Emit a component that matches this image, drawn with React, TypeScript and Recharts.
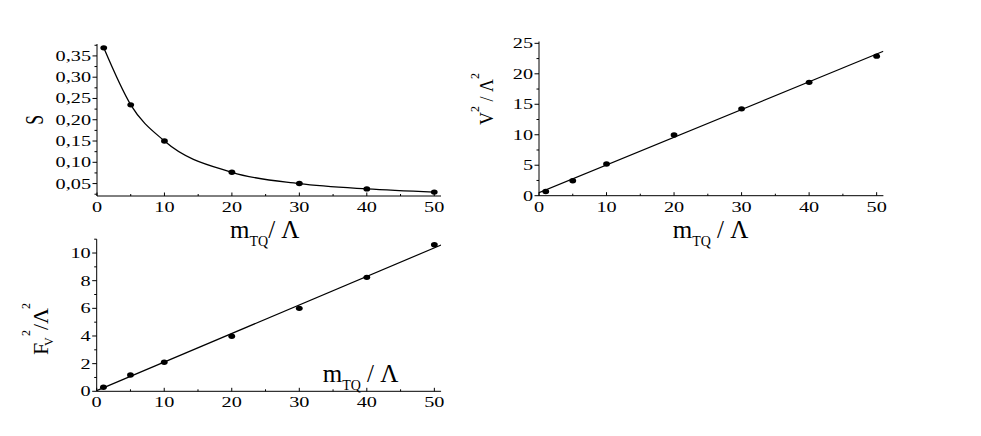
import React from "react"
import { ComposedChart, Line, Scatter, XAxis, YAxis } from "recharts"

const W = 981
const H = 436
const FONT = "'Liberation Serif', 'Times New Roman', serif"

// m_TQ / Lambda values where points were computed
const mValues = [1, 5, 10, 20, 30, 40, 50]
const sValues = [0.369, 0.235, 0.15, 0.0765, 0.05, 0.0375, 0.03]
const v2Values = [0.7, 2.45, 5.2, 9.95, 14.25, 18.6, 22.9]
const f2Values = [0.29, 1.18, 2.1, 3.98, 6.0, 8.24, 10.6]

// linear fits (end points)
const fitM = [0, 51]
const v2Fit = [0.5, 23.7]
const f2Fit = [0.05, 10.58]

const xMajor = [0, 10, 20, 30, 40, 50]
const xMinor = [5, 15, 25, 35, 45]
const sMajor = [0.05, 0.1, 0.15, 0.2, 0.25, 0.3, 0.35]
const sMinor = [0.025, 0.075, 0.125, 0.175, 0.225, 0.275, 0.325, 0.375]
const v2Major = [0, 5, 10, 15, 20, 25]
const v2Minor = [2.5, 7.5, 12.5, 17.5, 22.5]
const f2Major = [0, 2, 4, 6, 8, 10]
const f2Minor = [1, 3, 5, 7, 9, 11]

const sData = mValues.map((m, i) => ({ m, y: sValues[i] }))
const v2Data = mValues.map((m, i) => ({ m, y: v2Values[i] }))
const f2Data = mValues.map((m, i) => ({ m, y: f2Values[i] }))
const v2Line = fitM.map((m, i) => ({ m, y: v2Fit[i] }))
const f2Line = fitM.map((m, i) => ({ m, y: f2Fit[i] }))

const STRETCH = 1.35
const TICK_FONT = 15

function labelWidth(t: string) {
  let w = 0
  for (const c of t) w += c === "," ? 0.25 : 0.5
  return w * TICK_FONT * STRETCH
}

const isIn = (arr: number[], v: number) => arr.some((a) => Math.abs(a - v) < 1e-6)
const sorted = (a: number[], b: number[]) => [...a, ...b].sort((p, q) => p - q)

function makeYTick(majors: number[], fmt: (v: number) => string) {
  return (props: any) => {
    const { x, y, payload } = props
    const v = payload.value
    if (!isIn(majors, v)) {
      return <line x1={x} x2={x - 2.5} y1={y} y2={y} stroke="#000" />
    }
    const t = fmt(v)
    return (
      <g>
        <line x1={x} x2={x - 4.5} y1={y} y2={y} stroke="#000" />
        <text x={x - 6} y={y + 5} textAnchor="end" fontSize={TICK_FONT} fontFamily={FONT}
          textLength={labelWidth(t)} lengthAdjust="spacingAndGlyphs" fill="#000">{t}</text>
      </g>
    )
  }
}

function XTick(props: any) {
  const { x, y, payload } = props
  const v = payload.value
  const major = isIn(xMajor, v)
  const t = String(v)
  return (
    <g>
      <line x1={x} x2={x} y1={y} y2={y - (major ? 3.5 : 2)} stroke="#000" />
      {major && (
        <text x={x} y={y + 16} textAnchor="middle" fontSize={TICK_FONT} fontFamily={FONT}
          textLength={labelWidth(t)} lengthAdjust="spacingAndGlyphs" fill="#000">{t}</text>
      )}
    </g>
  )
}

const Dot = (p: any) => (
  <ellipse key={`d${p.index}-${p.cx}`} cx={p.cx} cy={p.cy} rx={3.4} ry={2.7} fill="#000" />
)
const NoShape = () => <g />

const sFmt = (v: number) => v.toFixed(2).replace(".", ",")
const intFmt = (v: number) => String(v)

// plot-area boxes: left, top, right, bottom (px)
function margins(l: number, t: number, r: number, b: number) {
  // axes get 1px of width/height, which recharts adds inside the margin
  return { left: l - 1, top: t, right: W - r, bottom: H - b - 1 }
}

export default function App() {
  return (
    <div style={{ position: "absolute", left: 0, top: 0, width: W, height: H, background: "#fff" }}>
      <div style={{ position: "absolute", left: 0, top: 0 }}>
        <ComposedChart width={W} height={H} data={sData} margin={margins(97, 44, 441, 196)}>
          <XAxis type="number" dataKey="m" domain={[0, 51]} allowDataOverflow
            ticks={sorted(xMajor, xMinor)} interval={0} tickSize={0} tickMargin={0}
            tickLine={false} tick={XTick} height={1} axisLine={{ stroke: "#000" }} />
          <YAxis type="number" dataKey="y" domain={[0.0208, 0.378]} allowDataOverflow
            ticks={sorted(sMajor, sMinor)} interval={0} tickSize={0} tickMargin={0}
            tickLine={false} tick={makeYTick(sMajor, sFmt)} width={1} axisLine={{ stroke: "#000" }} />
          <Line dataKey="y" type="monotone" stroke="#000" strokeWidth={1.3} dot={Dot}
            activeDot={false} isAnimationActive={false} />
        </ComposedChart>
      </div>

      <div style={{ position: "absolute", left: 0, top: 0 }}>
        <ComposedChart width={W} height={H} margin={margins(539, 41.5, 883.4, 195.7)}>
          <XAxis type="number" dataKey="m" domain={[0, 51]} allowDataOverflow
            ticks={sorted(xMajor, xMinor)} interval={0} tickSize={0} tickMargin={0}
            tickLine={false} tick={XTick} height={1} axisLine={{ stroke: "#000" }} />
          <YAxis type="number" dataKey="y" domain={[0, 25.3]} allowDataOverflow
            ticks={sorted(v2Major, v2Minor)} interval={0} tickSize={0} tickMargin={0}
            tickLine={false} tick={makeYTick(v2Major, intFmt)} width={1} axisLine={{ stroke: "#000" }} />
          <Scatter data={v2Line} dataKey="y" line={{ stroke: "#000", strokeWidth: 1.2 }}
            shape={NoShape} isAnimationActive={false} />
          <Scatter data={v2Data} dataKey="y" shape={Dot} isAnimationActive={false} />
        </ComposedChart>
      </div>

      <div style={{ position: "absolute", left: 0, top: 0 }}>
        <ComposedChart width={W} height={H} margin={margins(96.7, 239.2, 441.1, 391.3)}>
          <XAxis type="number" dataKey="m" domain={[0, 51]} allowDataOverflow
            ticks={sorted(xMajor, xMinor)} interval={0} tickSize={0} tickMargin={0}
            tickLine={false} tick={XTick} height={1} axisLine={{ stroke: "#000" }} />
          <YAxis type="number" dataKey="y" domain={[0, 11]} allowDataOverflow
            ticks={sorted(f2Major, f2Minor)} interval={0} tickSize={0} tickMargin={0}
            tickLine={false} tick={makeYTick(f2Major, intFmt)} width={1} axisLine={{ stroke: "#000" }} />
          <Scatter data={f2Line} dataKey="y" line={{ stroke: "#000", strokeWidth: 1.2 }}
            shape={NoShape} isAnimationActive={false} />
          <Scatter data={f2Data} dataKey="y" shape={Dot} isAnimationActive={false} />
        </ComposedChart>
      </div>

      {/* axis titles */}
      <svg width={W} height={H} style={{ position: "absolute", left: 0, top: 0 }} fontFamily={FONT} fill="#000">
        <text transform="translate(43,120) rotate(-90) scale(0.7,1)" textAnchor="middle" fontSize={25}>S</text>

        <text x={230} y={238} fontSize={25}>
          m<tspan dy={8} fontSize={14}>TQ</tspan><tspan dy={-8}>/ Λ</tspan>
        </text>
        <text x={672.7} y={238} fontSize={25} style={{ whiteSpace: "pre" }}>
          m<tspan dy={8} fontSize={14}>TQ</tspan><tspan dy={-8}>{" / Λ"}</tspan>
        </text>
        <text x={322.7} y={381.7} fontSize={25} style={{ whiteSpace: "pre" }}>
          m<tspan dy={8} fontSize={14}>TQ</tspan><tspan dy={-8}>{" / Λ"}</tspan>
        </text>

        <text transform="translate(493,99) rotate(-90)" textAnchor="middle" fontSize={18} style={{ whiteSpace: "pre" }}>
          V<tspan dy={-14} fontSize={12}>2</tspan><tspan dy={14}>{" / Λ"}</tspan><tspan dy={-14} fontSize={12}>2</tspan>
        </text>

        <text transform="translate(48,355) rotate(-90)" fontSize={22}>
          <tspan x={0}>F</tspan>
          <tspan x={9} dy={5} fontSize={12}>V</tspan>
          <tspan x={19} dy={-23} fontSize={12}>2</tspan>
          <tspan x={25} dy={18}>/</tspan>
          <tspan x={31}>Λ</tspan>
          <tspan x={46} dy={-18} fontSize={12}>2</tspan>
        </text>
      </svg>
    </div>
  )
}
